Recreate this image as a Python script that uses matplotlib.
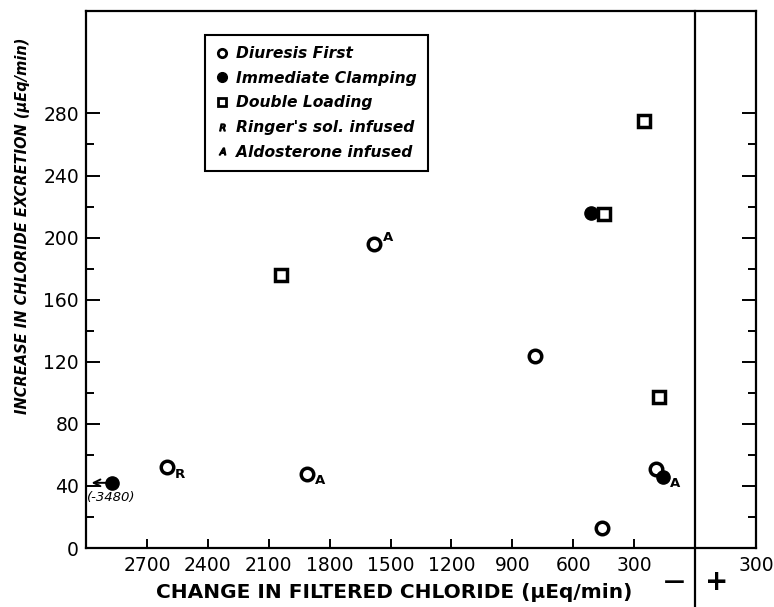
import matplotlib
matplotlib.use("Agg")
import matplotlib.pyplot as plt
from matplotlib.lines import Line2D
from matplotlib.ticker import FixedLocator

# ---- data ----
diuresis_x = [-2600, -1910, -1580, -790, -195, -460]
diuresis_y = [52, 48, 196, 124, 51, 13]
clamp_x = [-2870, -515, -158]      # first point is off-scale (-3480), drawn at the left edge
clamp_y = [42, 216, 46]
double_x = [-2040, -450, -252, -178]
double_y = [176, 215, 275, 97]
offscale_label = "(-3480)"

# annotations: (series, index, letter, position)
notes = [("diuresis", 0, "R", "sub"), ("diuresis", 1, "A", "sub"),
         ("diuresis", 2, "A", "sup"), ("clamp", 2, "A", "sub")]

x_ticks = [-2700, -2400, -2100, -1800, -1500, -1200, -900, -600, -300, 300]
x_tick_labels = ["2700", "2400", "2100", "1800", "1500", "1200", "900", "600", "300", "300"]
y_ticks = [0, 40, 80, 120, 160, 200, 240, 280]
y_minor = [20, 60, 100, 140, 180, 220, 260]

fig = plt.figure(figsize=(7.74, 6.07), dpi=100)
ax = fig.add_axes([86/774, 59/607, 670/774, 537/607])
ax.set_xlim(-3000, 300)
ax.set_ylim(0, 346)

lw = 1.6
for s in ax.spines.values():
    s.set_linewidth(lw)

ms = 9
mew = 2.5
ax.plot(diuresis_x, diuresis_y, "o", ms=ms, mfc="white", mec="black", mew=mew, ls="none", zorder=3)
ax.plot(double_x, double_y, "s", ms=ms, mfc="white", mec="black", mew=mew, ls="none", zorder=3)
ax.plot(clamp_x, clamp_y, "o", ms=9.5, mfc="black", mec="black", ls="none", zorder=4)

series = {"diuresis": (diuresis_x, diuresis_y), "clamp": (clamp_x, clamp_y)}
for name, i, letter, pos in notes:
    xs, ys = series[name]
    off = (9, -5) if pos == "sub" else (10, 4.5)
    ax.annotate(letter, (xs[i], ys[i]), xytext=off, textcoords="offset points",
                fontsize=9.5, fontweight="bold", ha="center", va="center")

# off-scale arrow and value
ax.annotate("", xy=(clamp_x[0], clamp_y[0]), xytext=(-15, 0), textcoords="offset points",
            arrowprops=dict(arrowstyle="<-", lw=1.4, color="black", shrinkA=0, shrinkB=4,
                            mutation_scale=12))
ax.annotate(offscale_label, (clamp_x[0], clamp_y[0]), xytext=(-18, -6), textcoords="offset points",
            fontsize=9.5, style="italic", ha="left", va="top")

# zero line extended below the axis
ax.plot([0, 0], [-0.12, 1.0], color="black", lw=lw, transform=ax.get_xaxis_transform(), clip_on=False)
fig.text(674/774, 1 - 582/607, "\u2014", fontsize=15, fontweight="bold", ha="center", va="center")
fig.text(717/774, 1 - 582/607, "+", fontsize=20, fontweight="bold", ha="center", va="center")

# ticks
ax.xaxis.set_major_locator(FixedLocator(x_ticks))
ax.set_xticklabels(x_tick_labels)
ax.yaxis.set_major_locator(FixedLocator(y_ticks))
ax.yaxis.set_minor_locator(FixedLocator(y_minor))
ax.tick_params(axis="x", which="major", direction="in", length=6.5, width=1.4, labelsize=13.5, pad=6)
ax.tick_params(axis="y", which="major", direction="in", length=10, width=1.4, labelsize=13.5, pad=5)
ax.tick_params(axis="y", which="minor", direction="in", length=6, width=1.4)
ax.tick_params(axis="y", which="both", right=True)

ax.set_xlabel("CHANGE IN FILTERED CHLORIDE (\u03bcEq/min)", fontsize=14.5, fontweight="bold")
ax.xaxis.set_label_coords(0.46, -0.065)
ax.set_ylabel("INCREASE IN CHLORIDE EXCRETION (\u03bcEq/min)", fontsize=10.5, fontweight="bold",
              style="italic")
ax.yaxis.set_label_coords(-0.084, 0.60)

# legend
handles = [
    Line2D([], [], marker="o", ls="none", ms=6, mfc="white", mec="black", mew=2),
    Line2D([], [], marker="o", ls="none", ms=7, mfc="black", mec="black"),
    Line2D([], [], marker="s", ls="none", ms=6, mfc="white", mec="black", mew=2),
    Line2D([], [], marker="$R$", ls="none", ms=5, color="black"),
    Line2D([], [], marker="$A$", ls="none", ms=5, color="black"),
]
labels = ["Diuresis First", "Immediate Clamping", "Double Loading",
          "Ringer's sol. infused", "Aldosterone infused"]
leg = ax.legend(handles, labels, loc="upper left", bbox_to_anchor=(0.178, 0.955),
                prop=dict(size=11.2, weight="bold", style="italic"), frameon=True, fancybox=False,
                edgecolor="black", framealpha=1, handlelength=0.8, handletextpad=0.5,
                labelspacing=0.62, borderpad=0.7, borderaxespad=0)
leg.get_frame().set_linewidth(1.5)

fig.savefig("out.png", dpi=100)
